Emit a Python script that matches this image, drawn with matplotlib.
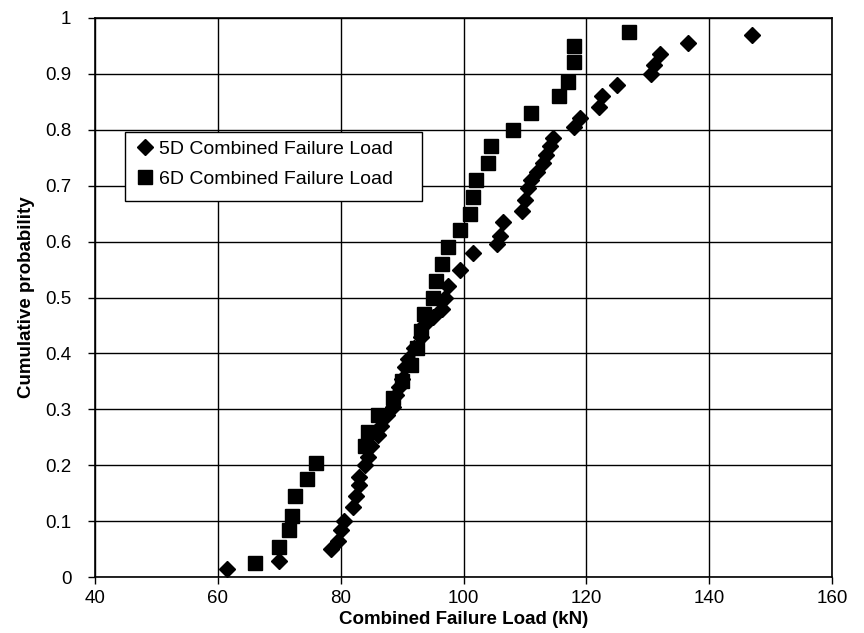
import matplotlib
matplotlib.use("Agg")
import matplotlib.pyplot as plt
from matplotlib.patches import Rectangle

# 5D Combined Failure Load (kN) and cumulative probability
load_5d = [61.5, 70, 78.5, 79.5, 80, 80.5, 82, 82.5, 83, 83, 84, 84.5, 85, 86,
           86.5, 87.5, 88.5, 89, 89.5, 90, 90.5, 91, 92, 93, 93.5, 95, 96.5, 97,
           97.5, 99.5, 101.5, 105.5, 106, 106.5, 109.5, 110, 110.5, 111, 112, 113,
           113.5, 114, 114.5, 118, 119, 122, 122.5, 125, 130.5, 131, 132, 136.5, 147]
prob_5d = [0.015, 0.03, 0.05, 0.065, 0.085, 0.10, 0.125, 0.145, 0.165, 0.18, 0.20,
           0.215, 0.235, 0.255, 0.27, 0.29, 0.305, 0.325, 0.34, 0.355, 0.375, 0.39,
           0.41, 0.43, 0.45, 0.465, 0.48, 0.50, 0.52, 0.55, 0.58, 0.595, 0.61, 0.635,
           0.655, 0.675, 0.695, 0.71, 0.725, 0.74, 0.755, 0.77, 0.785, 0.805, 0.82,
           0.84, 0.86, 0.88, 0.90, 0.915, 0.935, 0.955, 0.97]

# 6D Combined Failure Load (kN) and cumulative probability
load_6d = [66, 70, 71.5, 72, 72.5, 74.5, 76, 84, 84.5, 86, 88.5, 90, 91.5, 92.5,
           93, 93.5, 95, 95.5, 96.5, 97.5, 99.5, 101, 101.5, 102, 104, 104.5, 108,
           111, 115.5, 117, 118, 118, 127]
prob_6d = [0.025, 0.055, 0.085, 0.11, 0.145, 0.175, 0.205, 0.235, 0.26, 0.29, 0.32,
           0.35, 0.38, 0.41, 0.44, 0.47, 0.50, 0.53, 0.56, 0.59, 0.62, 0.65, 0.68,
           0.71, 0.74, 0.77, 0.80, 0.83, 0.86, 0.885, 0.92, 0.95, 0.975]

x_ticks = [40, 60, 80, 100, 120, 140, 160]
y_ticks = [0, 0.1, 0.2, 0.3, 0.4, 0.5, 0.6, 0.7, 0.8, 0.9, 1]
y_tick_labels = ["0", "0.1", "0.2", "0.3", "0.4", "0.5", "0.6", "0.7", "0.8", "0.9", "1"]

plt.rcParams['font.family'] = ['Liberation Sans', 'DejaVu Sans']

fig = plt.figure(figsize=(8.64, 6.33), dpi=100)
ax = fig.add_axes([0.110, 0.088, 0.853, 0.884])

ax.plot(load_5d, prob_5d, linestyle='none', marker='D', markersize=8.5,
        color='black', label='5D Combined Failure Load', zorder=3)
ax.plot(load_6d, prob_6d, linestyle='none', marker='s', markersize=9.5,
        color='black', label='6D Combined Failure Load', zorder=3)

ax.set_xlim(40, 160)
ax.set_ylim(0, 1)
ax.set_xticks(x_ticks)
ax.set_yticks(y_ticks)
ax.set_yticklabels(y_tick_labels)
ax.grid(True, color='black', linewidth=1.0)
ax.set_axisbelow(True)
for s in ax.spines.values():
    s.set_color('black')
    s.set_linewidth(1.2)
ax.tick_params(axis='both', labelsize=13.5, length=5, width=1, direction='out', colors='black')
ax.tick_params(axis='x', pad=4)
ax.tick_params(axis='y', pad=12)

ax.set_xlabel('Combined Failure Load (kN)', fontsize=13.5, fontweight='bold', labelpad=3)
ax.set_ylabel('Cumulative probability', fontsize=13.5, fontweight='bold', labelpad=7)

# legend frame (drawn separately to match the wider reference box)
frame = Rectangle((0.0407, 0.672), 0.403, 0.124, transform=ax.transAxes,
                  facecolor='white', edgecolor='black', linewidth=1.0, zorder=4)
ax.add_patch(frame)
leg = ax.legend(loc='upper left', bbox_to_anchor=(0.043, 0.796), fontsize=14,
                frameon=False, handletextpad=0.2, borderpad=0.45, handlelength=1.0,
                labelspacing=0.6, borderaxespad=0)
leg.set_zorder(5)

fig.savefig('out.png', dpi=100)
